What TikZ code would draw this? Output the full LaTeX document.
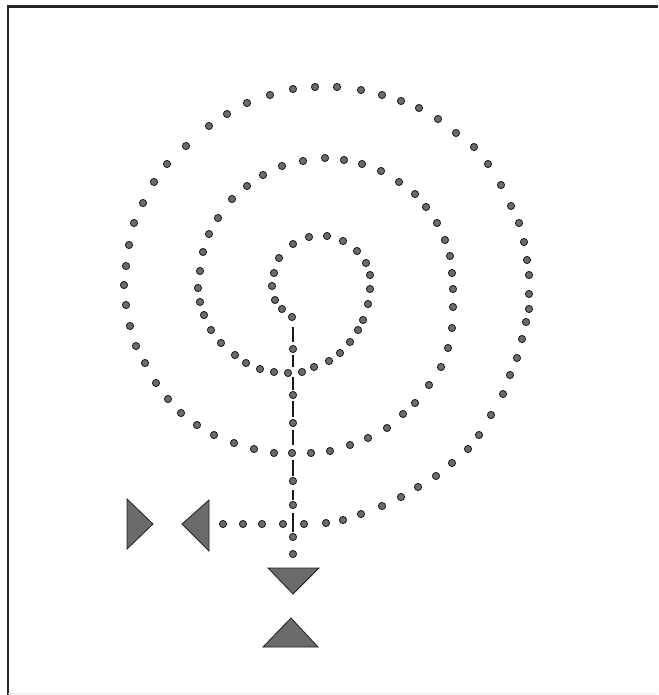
\documentclass[tikz,border=0pt]{standalone}
\begin{document}
\begin{tikzpicture}[x=1pt,y=-1pt,
  spot/.style={fill=black!58, draw=black!90, line width=0.8pt},
  dashln/.style={draw=black!90, line width=1.8pt},
  wedge/.style={fill=black!58, draw=black!88, line width=0.8pt, line join=miter},
  framel/.style={draw=black!85, line width=2.2pt}]
\useasboundingbox (0,0) rectangle (658,695);
% frame
\draw[framel] (8,695) -- (8,6.5) -- (658,6.5);
\draw[draw=black!8, line width=1pt] (8,693) -- (658,693);
% spiral of dots
\foreach \px/\py in {
 292/317, 282/309, 275/300, 272/286, 274/273, 279/258, 293/244, 309/237, 327/236,
 343/241, 357/251, 366/263, 370/275, 370/289, 368/304, 363/320, 358/330, 350/342,
 340/353, 329/361, 314/367, 302/372, 288/373, 274/372, 260/369, 246/363, 235/355,
 221/343, 211/330, 204/315, 200/302, 198/288, 200/271, 203/252, 209/234,
 218/218, 232/199, 247/186, 263/175, 282/166, 303/161, 325/158, 344/160, 362/164,
 381/171, 399/182, 415/194, 426/207, 437/223, 445/240, 450/256,
 452/273, 453/289, 453/307, 452/328, 448/348, 441/367, 429/385, 415/403, 403/414,
 387/428, 368/438, 350/445, 330/451, 311/453, 292/453, 274/453, 254/449, 234/443,
 214/435, 197/425, 181/413, 168/399, 156/383, 145/363, 136/346, 130/326, 126/305,
 124/285, 126/266, 129/245, 134/223, 143/203, 154/182, 167/164, 186/146, 209/126,
 227/114, 247/103, 270/95, 293/89, 315/87, 337/87, 361/90, 382/95, 401/101,
 419/108, 438/119, 456/133, 474/147, 488/164, 501/185, 511/206, 519/223, 524/242,
 527/260, 529/275, 529/294, 529/309, 526/322, 522/339, 517/358, 510/375, 503/394,
 491/415, 479/435, 468/449, 452/463, 436/476, 418/487, 401/497, 382/506, 361/514,
 343/520, 326/523, 304/524, 283/524, 262/524, 243/524, 223/524}
  \filldraw[spot] (\px,\py) circle [radius=3.6pt];
% vertical dash-dot line
\foreach \py in {349, 395, 423, 481, 505, 537, 554}
  \filldraw[spot] (293,\py) circle [radius=3.6pt];
\foreach \ya/\yb in {327/342, 355/367, 377/390, 401/417, 430/445, 460/476, 490/500, 513/532}
  \draw[dashln] (293,\ya) -- (293,\yb);
% triangles
\filldraw[wedge] (127,499) -- (127,549) -- (153,524) -- cycle;
\filldraw[wedge] (209,500) -- (209,551) -- (182,524) -- cycle;
\filldraw[wedge] (268,568) -- (319,568) -- (293,594) -- cycle;
\filldraw[wedge] (291,618) -- (263,647) -- (318,647) -- cycle;
\end{tikzpicture}
\end{document}
